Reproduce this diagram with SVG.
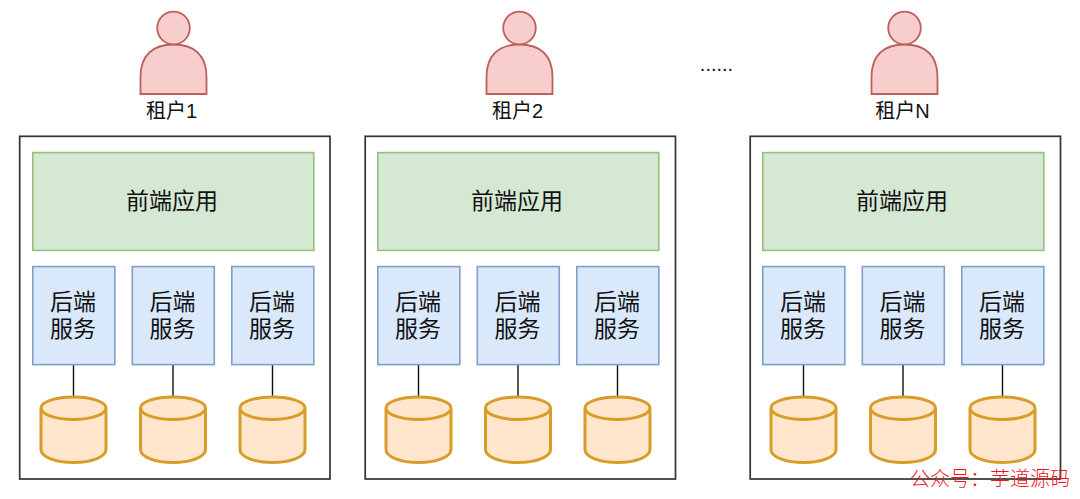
<svg xmlns="http://www.w3.org/2000/svg" width="1080" height="499" viewBox="0 0 1080 499">
<style>
text{font-family:"Liberation Sans","Noto Sans CJK SC",sans-serif;fill:#111;text-anchor:middle}
.t{font-size:23px}.l{font-size:20px}
.box{fill:#fff;stroke:#333;stroke-width:1.7}
.fe{fill:#d5e8d4;stroke:#94c078;stroke-width:1.6}
.be{fill:#dae8fc;stroke:#7f9fca;stroke-width:1.6}
.db{fill:#ffe6cc;stroke:#d99c28;stroke-width:3}
.p{fill:#f8cecc;stroke:#bd5f5c;stroke-width:1.8}
.c{fill:none;stroke:#111;stroke-width:1.4}
.w{font-size:20px;fill:#f5141c;font-weight:300;text-anchor:start}
</style>
<defs>
<g id="person-shape">
<path class="p" d="M140.500 94V77C140.500 55 153 44.500 173.500 44.500S206.500 55 206.500 77V94Z"/>
<circle class="p" cx="173.500" cy="28" r="16.300"/>
</g>
<path id="cyl" class="db" d="M41 408V449.500C41 457 56 462.500 73.500 462.500S106 457 106 449.500V408C106 401.500 91 397 73.500 397S41 401.500 41 408C41 414.500 56 419.500 73.500 419.500S106 414.500 106 408"/>
</defs>

<rect class="box" x="19.700" y="136.300" width="310.300" height="342.700"/>
<rect class="box" x="365.200" y="136.300" width="310.300" height="342.700"/>
<rect class="box" x="750.200" y="136.300" width="310.300" height="342.700"/>

<g id="connectors">
<path class="c" d="M73.500 365V397M173 365V397M272.500 365V397"/>
<path class="c" d="M418.500 365V397M518 365V397M617.500 365V397"/>
<path class="c" d="M803.500 365V397M903 365V397M1002.500 365V397"/>
</g>

<g id="tenant1"><use href="#person-shape"/><text class="l" x="171.500" y="118">租户1</text></g>
<g id="tenant2" transform="translate(346 0)"><use href="#person-shape"/><text class="l" x="171.500" y="118">租户2</text></g>
<g id="tenantN" transform="translate(731 0)"><use href="#person-shape"/><text class="l" x="171.500" y="118">租户N</text></g>
<g id="dots"><text x="716.500" y="71" style="font-size:20px">......</text></g>

<g id="fe1"><rect class="fe" x="32.800" y="152.600" width="281" height="97.800"/><text class="t" x="172" y="209">前端应用</text></g>
<g id="fe2" transform="translate(345 0)"><rect class="fe" x="32.800" y="152.600" width="281" height="97.800"/><text class="t" x="172" y="209">前端应用</text></g>
<g id="fe3" transform="translate(730 0)"><rect class="fe" x="32.800" y="152.600" width="281" height="97.800"/><text class="t" x="172" y="209">前端应用</text></g>

<g id="be1a"><rect class="be" x="32.800" y="266.600" width="82" height="98"/><text class="t" x="73" y="310">后端<tspan x="73" dy="27">服务</tspan></text></g>
<g id="be1b"><rect class="be" x="132.300" y="266.600" width="82" height="98"/><text class="t" x="172.500" y="310">后端<tspan x="172.500" dy="27">服务</tspan></text></g>
<g id="be1c"><rect class="be" x="231.800" y="266.600" width="82" height="98"/><text class="t" x="272" y="310">后端<tspan x="272" dy="27">服务</tspan></text></g>
<g id="be2a" transform="translate(345 0)"><rect class="be" x="32.800" y="266.600" width="82" height="98"/><text class="t" x="73" y="310">后端<tspan x="73" dy="27">服务</tspan></text></g>
<g id="be2b" transform="translate(345 0)"><rect class="be" x="132.300" y="266.600" width="82" height="98"/><text class="t" x="172.500" y="310">后端<tspan x="172.500" dy="27">服务</tspan></text></g>
<g id="be2c" transform="translate(345 0)"><rect class="be" x="231.800" y="266.600" width="82" height="98"/><text class="t" x="272" y="310">后端<tspan x="272" dy="27">服务</tspan></text></g>
<g id="be3a" transform="translate(730 0)"><rect class="be" x="32.800" y="266.600" width="82" height="98"/><text class="t" x="73" y="310">后端<tspan x="73" dy="27">服务</tspan></text></g>
<g id="be3b" transform="translate(730 0)"><rect class="be" x="132.300" y="266.600" width="82" height="98"/><text class="t" x="172.500" y="310">后端<tspan x="172.500" dy="27">服务</tspan></text></g>
<g id="be3c" transform="translate(730 0)"><rect class="be" x="231.800" y="266.600" width="82" height="98"/><text class="t" x="272" y="310">后端<tspan x="272" dy="27">服务</tspan></text></g>

<g id="db1a"><use href="#cyl"/></g>
<g id="db1b" transform="translate(99.500 0)"><use href="#cyl"/></g>
<g id="db1c" transform="translate(199 0)"><use href="#cyl"/></g>
<g id="db2a" transform="translate(345 0)"><use href="#cyl"/></g>
<g id="db2b" transform="translate(444.500 0)"><use href="#cyl"/></g>
<g id="db2c" transform="translate(544 0)"><use href="#cyl"/></g>
<g id="db3a" transform="translate(730 0)"><use href="#cyl"/></g>
<g id="db3b" transform="translate(829.500 0)"><use href="#cyl"/></g>
<g id="db3c" transform="translate(929 0)"><use href="#cyl"/></g>

<text class="w" x="910" y="486">公众号：芋道源码</text>
</svg>
